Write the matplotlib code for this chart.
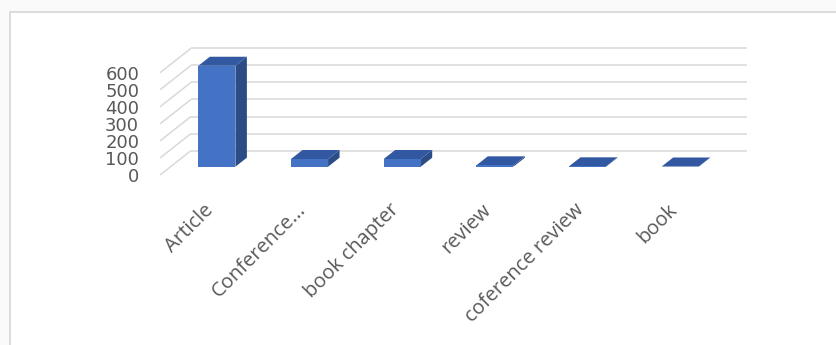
import matplotlib
matplotlib.use("Agg")
import matplotlib.pyplot as plt
from matplotlib.patches import Polygon, Rectangle
from matplotlib.transforms import ScaledTranslation
import numpy as np

categories = ["Article", "Conference...", "book chapter", "review", "coference review", "book"]
values = [592, 45, 45, 8, 2, 1]
yticks = [0, 100, 200, 300, 400, 500, 600]

W, H = 837, 345
fig = plt.figure(figsize=(W / 100, H / 100), dpi=100, facecolor="#fafafa")

# chart border
fig.patches.append(Rectangle((10 / W, -0.1), 1.2, (H - 12) / H + 0.1, transform=fig.transFigure,
                             facecolor="white", edgecolor="#d9d9d9", lw=1.3, zorder=-5))

px_per_unit = 17.05 / 100.0
front_zero = 175
top_px = 20
ax = fig.add_axes([160 / W, (H - front_zero) / H, 556 / W, (front_zero - top_px) / H])
ax.set_zorder(2)
ax.set_facecolor("none")
ax.set_xlim(-0.5, len(categories) - 0.5)
ax.set_ylim(0, (front_zero - top_px) / px_per_unit)
for s in ax.spines.values():
    s.set_visible(False)

cat_px = 556 / len(categories)
DX = 31 / cat_px
DY = 24.4 / px_per_unit
grid_c = "#d9d9d9"

# left wall and back wall gridlines
x0 = -0.5
x1 = len(categories) - 0.5
for v in yticks:
    ax.plot([x0, x0 + DX], [v, v + DY], color=grid_c, lw=1.1, clip_on=False, zorder=1,
            solid_capstyle="butt")
    ax.plot([x0 + DX, x1 + DX], [v + DY, v + DY], color=grid_c, lw=1.1, clip_on=False, zorder=1,
            solid_capstyle="butt")

# bars (oblique 3D look)
d_f, d_b = 0.34, 0.71
w = 0.40
front_c, side_c, top_c = "#4472C4", "#2B4C86", "#3158A0"
for i, val in enumerate(values):
    xl = i - w / 2 + d_f * DX
    xr = i + w / 2 + d_f * DX
    yb = d_f * DY
    yt = val + d_f * DY
    ddx = (d_b - d_f) * DX
    ddy = (d_b - d_f) * DY
    side = Polygon([(xr, yb), (xr + ddx, yb + ddy), (xr + ddx, yt + ddy), (xr, yt)],
                   closed=True, facecolor=side_c, edgecolor="none", clip_on=False, zorder=3)
    top = Polygon([(xl, yt), (xr, yt), (xr + ddx, yt + ddy), (xl + ddx, yt + ddy)],
                  closed=True, facecolor=top_c, edgecolor="none", clip_on=False, zorder=3)
    front = Rectangle((xl, yb), w, val, facecolor=front_c, edgecolor="none", clip_on=False, zorder=4)
    ax.add_patch(side)
    ax.add_patch(top)
    ax.add_patch(front)

# y ticks
ax.set_yticks(yticks)
ax.set_yticklabels([str(v) for v in yticks], fontsize=13, color="#595959", family="DejaVu Sans")
ax.tick_params(axis="y", length=0, pad=15)

# x ticks
ax.set_xticks(range(len(categories)))
ax.set_xticklabels(categories, rotation=45, ha="right", rotation_mode="anchor",
                   fontsize=14.5, color="#595959", family="Open Sans")
ax.tick_params(axis="x", length=0, pad=18)
off = ScaledTranslation(-3 / 100, 0, fig.dpi_scale_trans)
for lab in ax.get_xticklabels():
    lab.set_transform(lab.get_transform() + off)

fig.savefig("out.png", dpi=100, facecolor=fig.get_facecolor())
